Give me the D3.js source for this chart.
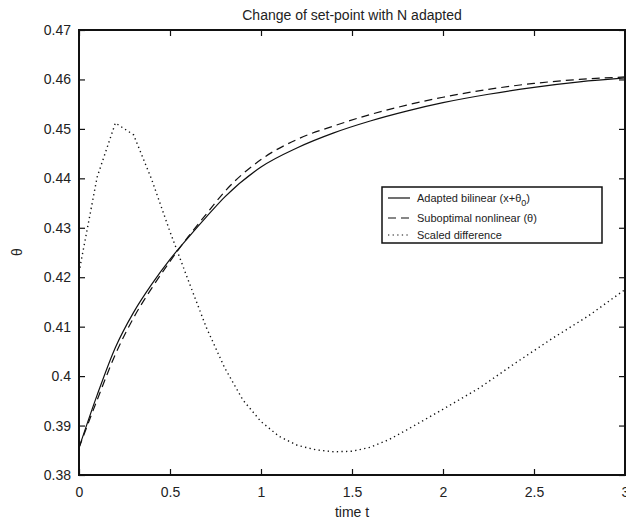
<!DOCTYPE html>
<html lang="en">

<head>
  <meta charset="UTF-8">
  <title>Change of set-point with N adapted</title>
  <style>
    body { margin: 0; background: #fff; }
    text { font-family: "Liberation Sans", Arial, sans-serif; fill: #222; }
  </style>
</head>

<body>
  <svg id="svg" width="626" height="522"></svg>

  <script src="https://d3js.org/d3.v7.min.js"></script>
  <script>
    // time grid for the two theta curves
    const tGrid = [0, 0.1, 0.2, 0.3, 0.4, 0.5, 0.6, 0.7, 0.8, 1.0, 1.2, 1.4, 1.6, 1.8, 2.0, 2.25, 2.5, 2.75, 3.0]
    const bilinear = [0.3855, 0.3962, 0.4058, 0.4129, 0.4186, 0.4236, 0.4280, 0.4322, 0.4362, 0.4423, 0.4462, 0.4492, 0.4516, 0.4536, 0.4553, 0.4570, 0.4584, 0.4595, 0.4603]
    const nonlinear = [0.3855, 0.3952, 0.4044, 0.4118, 0.4178, 0.4232, 0.4282, 0.4328, 0.4373, 0.4438, 0.4479, 0.4506, 0.4529, 0.4548, 0.4564, 0.4580, 0.4592, 0.4600, 0.4605]

    // scaled difference, sampled more finely
    const tDiff = [0, 0.1, 0.2, 0.3, 0.4, 0.5, 0.6, 0.7, 0.8, 0.9, 1.0, 1.1, 1.2, 1.3, 1.4, 1.5, 1.6, 1.7, 1.8, 1.9, 2.0, 2.2, 2.4, 2.6, 2.8, 3.0]
    const scaledDiff = [0.421, 0.4403, 0.4512, 0.4488, 0.4397, 0.4292, 0.4194, 0.4098, 0.4017, 0.3952, 0.3908, 0.3878, 0.3860, 0.3851, 0.3847, 0.3848, 0.3856, 0.3871, 0.3891, 0.3912, 0.3933, 0.3976, 0.4027, 0.4076, 0.4122, 0.4175]

    const xTicks = [0, 0.5, 1, 1.5, 2, 2.5, 3]
    const yTicks = [0.38, 0.39, 0.4, 0.41, 0.42, 0.43, 0.44, 0.45, 0.46, 0.47]

    const legendLabels = ["Adapted bilinear (x+θ", "Suboptimal nonlinear (θ)", "Scaled difference"]

    const margin = { top: 30, right: 1, bottom: 47, left: 79 }
    const width = 626, height = 522

    const svg = d3.select("#svg")

    const x = d3.scaleLinear().domain([0, 3]).range([margin.left, width - margin.right])
    const y = d3.scaleLinear().domain([0.38, 0.47]).range([height - margin.bottom, margin.top])

    // frame
    svg.append("rect")
      .attr("x", x(0)).attr("y", y(0.47))
      .attr("width", x(3) - x(0)).attr("height", y(0.38) - y(0.47))
      .attr("fill", "none").attr("stroke", "#111").attr("stroke-width", 2)

    // axes with inward ticks
    const fmtY = d => d3.format(".2f")(d).replace(/0$/, "")
    svg.append("g").attr("transform", `translate(0,${y(0.38)})`)
      .call(d3.axisBottom(x).tickValues(xTicks).tickFormat(d => d).tickSizeInner(-6).tickSizeOuter(0).tickPadding(12))
      .call(g => g.select(".domain").remove())
    svg.append("g").attr("transform", `translate(0,${y(0.47)})`)
      .call(d3.axisTop(x).tickValues(xTicks).tickFormat("").tickSizeInner(-6).tickSizeOuter(0))
      .call(g => g.select(".domain").remove())
    svg.append("g").attr("transform", `translate(${x(0)},0)`)
      .call(d3.axisLeft(y).tickValues(yTicks).tickFormat(fmtY).tickSizeInner(-6).tickSizeOuter(0).tickPadding(8))
      .call(g => g.select(".domain").remove())
    svg.append("g").attr("transform", `translate(${x(3)},0)`)
      .call(d3.axisRight(y).tickValues(yTicks).tickFormat("").tickSizeInner(-6).tickSizeOuter(0))
      .call(g => g.select(".domain").remove())

    svg.selectAll(".tick line").attr("stroke", "#111").attr("stroke-width", 1.2)
    svg.selectAll(".tick text").style("font-size", "14px").attr("fill", "#222")
      .style("font-family", "'Liberation Sans', Arial, sans-serif")

    // curves: the two theta curves smooth, the difference straight between samples
    const smooth = d3.line().x(d => x(d[0])).y(d => y(d[1])).curve(d3.curveMonotoneX)
    const straight = d3.line().x(d => x(d[0])).y(d => y(d[1]))
    const series = [
      { pts: d3.zip(tGrid, bilinear), dash: null, line: smooth },
      { pts: d3.zip(tGrid, nonlinear), dash: "8,5", line: smooth },
      { pts: d3.zip(tDiff, scaledDiff), dash: "1.3,3.3", line: straight }
    ]
    svg.append("g").selectAll("path")
      .data(series)
      .enter()
      .append("path")
      .attr("d", d => d.line(d.pts))
      .attr("fill", "none")
      .attr("stroke", "#111")
      .attr("stroke-width", d => d.dash === "1.3,3.3" ? 1.4 : 1.2)
      .attr("stroke-dasharray", d => d.dash)

    // titles
    svg.append("text").attr("x", 352).attr("y", 20).attr("text-anchor", "middle")
      .style("font-size", "14px").text("Change of set-point with N adapted")
    svg.append("text").attr("x", 352).attr("y", 517).attr("text-anchor", "middle")
      .style("font-size", "14px").text("time t")
    svg.append("text").attr("transform", "translate(22,252) rotate(-90)").attr("text-anchor", "middle")
      .style("font-size", "14px").text("θ")

    // legend
    const lg = svg.append("g").attr("transform", "translate(382,187)")
    lg.append("rect").attr("width", 220).attr("height", 56)
      .attr("fill", "#fff").attr("stroke", "#111").attr("stroke-width", 1.5)
    const rows = lg.selectAll("g.row")
      .data(legendLabels)
      .enter()
      .append("g")
      .attr("class", "row")
      .attr("transform", (d, i) => `translate(0,${[11, 31, 48][i]})`)
    rows.append("line")
      .attr("x1", 6).attr("x2", 28)
      .attr("stroke", "#111").attr("stroke-width", 1.2)
      .attr("stroke-dasharray", (d, i) => series[i].dash)
    rows.append("text")
      .attr("x", 35).attr("y", 4)
      .style("font-size", "11px")
      .each(function (d, i) {
        const t = d3.select(this)
        t.append("tspan").text(d)
        if (i === 0) {
          t.append("tspan").attr("dy", 4).style("font-size", "9px").text("0")
          t.append("tspan").attr("dy", -4).text(")")
        }
      })
  </script>
</body>

</html>
